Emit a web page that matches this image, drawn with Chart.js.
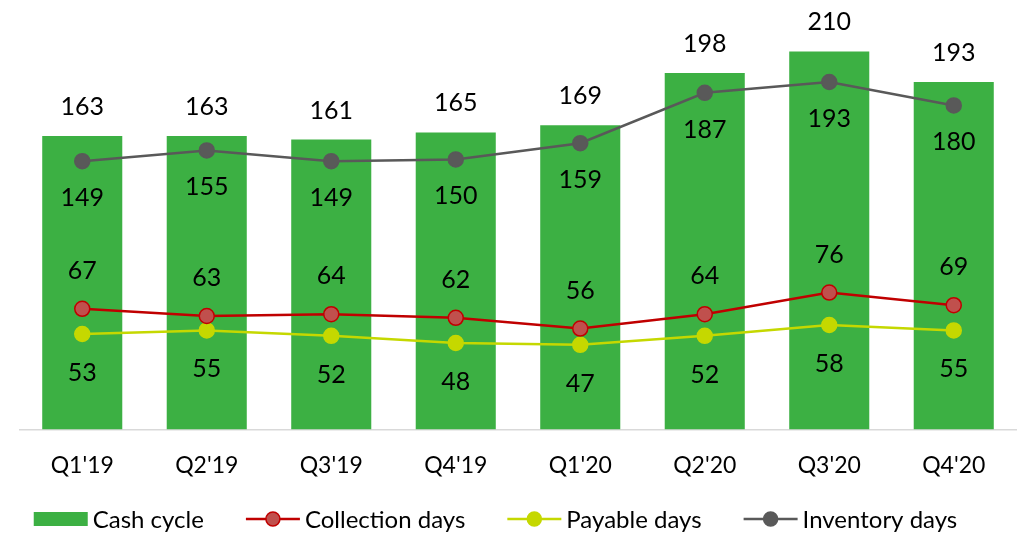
<!DOCTYPE html>
<html lang="en">
<head>
<meta charset="UTF-8">
<title>Cash cycle</title>
<script src="https://cdn.jsdelivr.net/npm/chart.js"></script>
<style>
    html, body { margin: 0; padding: 0; background: #fff; overflow: hidden; }
</style>
</head>
<body>
<canvas id="chart" width="1017" height="535"></canvas>
<script>
    const quarters = ["Q1'19", "Q2'19", "Q3'19", "Q4'19", "Q1'20", "Q2'20", "Q3'20", "Q4'20"];
    const cashCycle = [163, 163, 161, 165, 169, 198, 210, 193];
    const collectionDays = [67, 63, 64, 62, 56, 64, 76, 69];
    const payableDays = [53, 55, 52, 48, 47, 52, 58, 55];
    const inventoryDays = [149, 155, 149, 150, 159, 187, 193, 180];

    const FONT = 'Lato, "Noto Sans", sans-serif';

    // value labels: offset in px from the mark (negative = above)
    const labelPlugin = {
        id: 'valueLabels',
        afterDatasetsDraw(chart) {
            const ctx = chart.ctx;
            ctx.save();
            ctx.font = '25px ' + FONT;
            ctx.fillStyle = '#000';
            ctx.textAlign = 'center';
            ctx.textBaseline = 'middle';
            chart.data.datasets.forEach((ds, i) => {
                const meta = chart.getDatasetMeta(i);
                meta.data.forEach((el, j) => {
                    ctx.fillText(ds.data[j], el.x, el.y + ds.labelOffset);
                });
            });
            ctx.restore();
        }
    };

    const legendPlugin = {
        id: 'bottomLegend',
        afterDraw(chart) {
            const ctx = chart.ctx;
            const y = 519;
            ctx.save();
            ctx.font = '24px ' + FONT;
            ctx.textBaseline = 'middle';
            const items = chart.data.datasets.map(ds => ({
                ds, w: 54 + 5 + ctx.measureText(ds.label).width
            }));
            const gap = 42;
            const total = items.reduce((s, it) => s + it.w, 0) + gap * (items.length - 1);
            let x = (chart.width - total) / 2 - 13;
            items.forEach(it => {
                const ds = it.ds;
                if (ds.type === 'bar') {
                    ctx.fillStyle = ds.backgroundColor;
                    ctx.fillRect(x, y - 7, 54, 14);
                } else {
                    ctx.strokeStyle = ds.borderColor;
                    ctx.lineWidth = 2.5;
                    ctx.beginPath();
                    ctx.moveTo(x, y);
                    ctx.lineTo(x + 54, y);
                    ctx.stroke();
                    ctx.beginPath();
                    ctx.arc(x + 27, y, 7, 0, Math.PI * 2);
                    ctx.fillStyle = ds.pointBackgroundColor;
                    ctx.fill();
                    ctx.lineWidth = 1.5;
                    ctx.strokeStyle = ds.pointBorderColor;
                    ctx.stroke();
                }
                ctx.fillStyle = '#000';
                ctx.textAlign = 'left';
                ctx.fillText(ds.label, x + 59, y + 1);
                x += it.w + gap;
            });
            ctx.restore();
        }
    };

    function lineSet(label, data, color, fill, offset) {
        return {
            type: 'line',
            label: label,
            data: data,
            borderColor: color,
            borderWidth: 2.5,
            pointRadius: 7.5,
            pointBackgroundColor: fill,
            pointBorderColor: color,
            pointBorderWidth: 1.5,
            tension: 0,
            order: 0,
            labelOffset: offset
        };
    }

    new Chart(document.getElementById('chart'), {
        data: {
            labels: quarters,
            datasets: [
                {
                    type: 'bar',
                    label: 'Cash cycle',
                    data: cashCycle,
                    backgroundColor: '#3cb043',
                    barPercentage: 0.643,
                    categoryPercentage: 1,
                    order: 1,
                    labelOffset: -29
                },
                lineSet('Collection days', collectionDays, '#c00000', '#c0504d', -38),
                lineSet('Payable days', payableDays, '#c5d800', '#c5d800', 39),
                lineSet('Inventory days', inventoryDays, '#595959', '#595959', 37)
            ]
        },
        options: {
            responsive: false,
            animation: false,
            events: [],
            layout: { autoPadding: false, padding: { left: 20, right: 1, top: 1, bottom: 42 } },
            plugins: {
                legend: { display: false },
                tooltip: { enabled: false }
            },
            scales: {
                x: {
                    grid: { display: false },
                    border: { display: true, color: '#d9d9d9', width: 1.5 },
                    ticks: { color: '#000', font: { family: FONT, size: 23 }, padding: 14 }
                },
                y: {
                    display: false,
                    min: 0,
                    max: 238
                }
            }
        },
        plugins: [labelPlugin, legendPlugin]
    });
</script>
</body>
</html>
